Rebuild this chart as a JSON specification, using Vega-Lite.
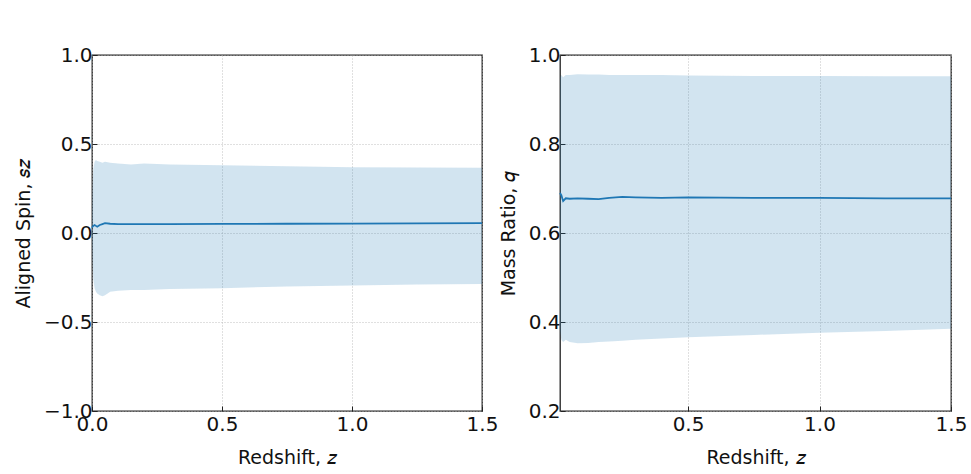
{
  "$schema": "https://vega.github.io/schema/vega-lite/v6.json",
  "background": "white",
  "padding": {"left": 13, "top": 44, "right": 5, "bottom": 5},
  "datasets": {
    "spin": [
      {"z": 0.000, "lo": 0.00, "mean": 0.030, "hi": 0.08},
      {"z": 0.002, "lo": -0.15, "mean": 0.035, "hi": 0.25},
      {"z": 0.005, "lo": -0.26, "mean": 0.040, "hi": 0.36},
      {"z": 0.010, "lo": -0.31, "mean": 0.045, "hi": 0.40},
      {"z": 0.015, "lo": -0.33, "mean": 0.040, "hi": 0.41},
      {"z": 0.020, "lo": -0.34, "mean": 0.035, "hi": 0.405},
      {"z": 0.030, "lo": -0.35, "mean": 0.045, "hi": 0.40},
      {"z": 0.040, "lo": -0.355, "mean": 0.050, "hi": 0.395},
      {"z": 0.050, "lo": -0.35, "mean": 0.055, "hi": 0.40},
      {"z": 0.070, "lo": -0.33, "mean": 0.052, "hi": 0.395},
      {"z": 0.100, "lo": -0.325, "mean": 0.050, "hi": 0.39},
      {"z": 0.150, "lo": -0.32, "mean": 0.050, "hi": 0.385},
      {"z": 0.200, "lo": -0.32, "mean": 0.050, "hi": 0.39},
      {"z": 0.300, "lo": -0.315, "mean": 0.050, "hi": 0.385},
      {"z": 0.500, "lo": -0.31, "mean": 0.051, "hi": 0.38},
      {"z": 0.750, "lo": -0.30, "mean": 0.052, "hi": 0.375},
      {"z": 1.000, "lo": -0.295, "mean": 0.053, "hi": 0.37},
      {"z": 1.250, "lo": -0.29, "mean": 0.054, "hi": 0.368},
      {"z": 1.500, "lo": -0.287, "mean": 0.055, "hi": 0.366}
    ],
    "ratio": [
      {"z": 0.013, "lo": 0.38, "mean": 0.690, "hi": 0.95},
      {"z": 0.018, "lo": 0.36, "mean": 0.685, "hi": 0.955},
      {"z": 0.025, "lo": 0.355, "mean": 0.672, "hi": 0.95},
      {"z": 0.035, "lo": 0.36, "mean": 0.678, "hi": 0.955},
      {"z": 0.050, "lo": 0.355, "mean": 0.677, "hi": 0.955},
      {"z": 0.080, "lo": 0.352, "mean": 0.678, "hi": 0.957},
      {"z": 0.120, "lo": 0.353, "mean": 0.677, "hi": 0.956},
      {"z": 0.160, "lo": 0.355, "mean": 0.676, "hi": 0.956},
      {"z": 0.200, "lo": 0.356, "mean": 0.679, "hi": 0.955},
      {"z": 0.250, "lo": 0.358, "mean": 0.681, "hi": 0.955},
      {"z": 0.300, "lo": 0.36, "mean": 0.680, "hi": 0.955},
      {"z": 0.400, "lo": 0.363, "mean": 0.679, "hi": 0.955},
      {"z": 0.500, "lo": 0.366, "mean": 0.680, "hi": 0.954},
      {"z": 0.750, "lo": 0.371, "mean": 0.679, "hi": 0.953},
      {"z": 1.000, "lo": 0.376, "mean": 0.679, "hi": 0.953},
      {"z": 1.250, "lo": 0.380, "mean": 0.678, "hi": 0.952},
      {"z": 1.500, "lo": 0.385, "mean": 0.678, "hi": 0.952}
    ]
  },
  "config": {
    "font": "DejaVu Sans",
    "view": {"stroke": "#222", "strokeWidth": 1.3},
    "concat": {"spacing": 78},
    "axis": {
      "domain": false,
      "grid": true,
      "gridColor": "#b0b0b0",
      "gridDash": [1, 2],
      "gridWidth": 0.8,
      "tickColor": "#222",
      "tickSize": -5,
      "labelFontSize": 20,
      "labelColor": "#111",
      "labelFont": "DejaVu Sans",
      "labelFlush": false,
      "titleFontSize": 19,
      "titleFontWeight": "normal",
      "titleColor": "#111",
      "titleFont": "DejaVu Sans"
    },
    "axisX": {"labelPadding": 8, "titlePadding": 14},
    "axisY": {"labelPadding": 5, "titlePadding": 10}
  },
  "bounds": "flush",
  "hconcat": [
    {
      "width": 390,
      "height": 356,
      "data": {"name": "spin"},
      "encoding": {
        "x": {
          "field": "z",
          "type": "quantitative",
          "scale": {"domain": [0, 1.5], "nice": false, "zero": false},
          "axis": {"title": "Redshift, 𝑧", "values": [0, 0.5, 1, 1.5], "format": ".1f"}
        }
      },
      "layer": [
        {
          "mark": {"type": "area", "color": "#1f77b4", "opacity": 0.2},
          "encoding": {
            "y": {
              "field": "lo",
              "type": "quantitative",
              "scale": {"domain": [-1, 1], "nice": false},
              "axis": {"title": "Aligned Spin, 𝑠𝑧", "values": [-1, -0.5, 0, 0.5, 1], "format": ".1f"}
            },
            "y2": {"field": "hi"}
          }
        },
        {
          "mark": {"type": "line", "color": "#1f77b4", "strokeWidth": 1.8},
          "encoding": {"y": {"field": "mean", "type": "quantitative"}}
        }
      ]
    },
    {
      "width": 391,
      "height": 356,
      "data": {"name": "ratio"},
      "encoding": {
        "x": {
          "field": "z",
          "type": "quantitative",
          "scale": {"domain": [0.013, 1.5], "nice": false, "zero": false},
          "axis": {"title": "Redshift, 𝑧", "values": [0.5, 1, 1.5], "format": ".1f"}
        }
      },
      "layer": [
        {
          "mark": {"type": "area", "color": "#1f77b4", "opacity": 0.2},
          "encoding": {
            "y": {
              "field": "lo",
              "type": "quantitative",
              "scale": {"domain": [0.2, 1], "nice": false, "zero": false},
              "axis": {"title": "Mass Ratio, 𝑞", "values": [0.2, 0.4, 0.6, 0.8, 1], "format": ".1f"}
            },
            "y2": {"field": "hi"}
          }
        },
        {
          "mark": {"type": "line", "color": "#1f77b4", "strokeWidth": 1.8},
          "encoding": {"y": {"field": "mean", "type": "quantitative"}}
        }
      ]
    }
  ]
}
